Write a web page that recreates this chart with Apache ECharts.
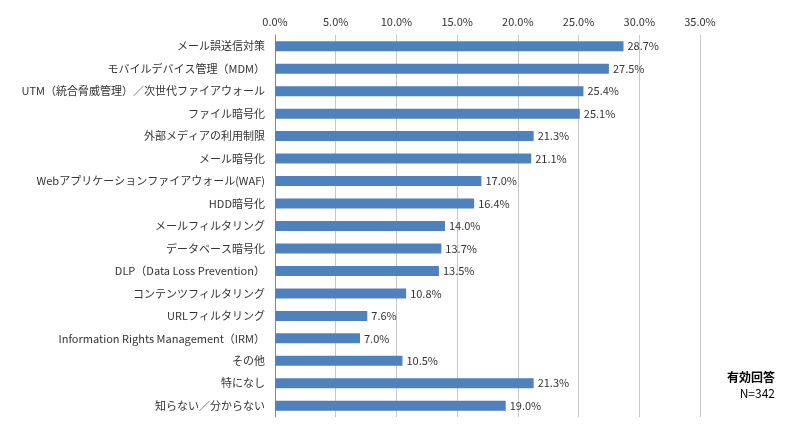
<!DOCTYPE html>
<html>
<head>
<meta charset="utf-8">
<script src="https://cdn.jsdelivr.net/npm/echarts@6/dist/echarts.min.js"></script>
<style>html,body{margin:0;padding:0;background:#fff}#main{width:800px;height:427px}</style>
</head>
<body>
<div id="main"></div>
<script>
var categories = ['メール誤送信対策','モバイルデバイス管理（MDM）','UTM（統合脅威管理）／次世代ファイアウォール','ファイル暗号化','外部メディアの利用制限','メール暗号化','Webアプリケーションファイアウォール(WAF)','HDD暗号化','メールフィルタリング','データベース暗号化','DLP（Data Loss Prevention）','コンテンツフィルタリング','URLフィルタリング','Information Rights Management（IRM）','その他','特になし','知らない／分からない'];
var values = [28.7,27.5,25.4,25.1,21.3,21.1,17.0,16.4,14.0,13.7,13.5,10.8,7.6,7.0,10.5,21.3,19.0];
var ticks = [0,5,10,15,20,25,30,35];

var myChart = echarts.init(document.getElementById('main'));
var font = '"Noto Sans CJK JP", sans-serif';
option = {
    animation: false,
    grid: {left: 275, right: 100, top: 35, bottom: 10},
    xAxis: {
        type: 'value', position: 'top', min: 0, max: 35, interval: 5,
        axisLabel: {formatter: function (v) { return v.toFixed(1) + '%'; }, color: '#333', fontSize: 11, fontFamily: font, margin: 8},
        splitLine: {lineStyle: {color: '#c8c8c8'}},
        axisLine: {show: false}, axisTick: {show: false}
    },
    yAxis: {
        type: 'category', inverse: true, data: categories,
        axisLabel: {color: '#333', fontSize: 11, fontFamily: font, margin: 10},
        axisLine: {lineStyle: {color: '#888'}}, axisTick: {show: false}
    },
    series: [{
        type: 'bar', data: values, barWidth: 10,
        itemStyle: {color: '#4F81BD'},
        label: {show: true, position: 'right', distance: 4, color: '#333', fontSize: 11, fontFamily: font,
            formatter: function (p) { return p.value.toFixed(1) + '%'; }}
    }],
    graphic: [
        {type: 'text', right: 25, top: 371, style: {text: '有効回答', font: 'bold 12px ' + font, fill: '#000'}},
        {type: 'text', right: 25, top: 387, style: {text: 'N=342', font: '12px ' + font, fill: '#000'}}
    ]
};
myChart.setOption(option);
</script>
</body>
</html>
